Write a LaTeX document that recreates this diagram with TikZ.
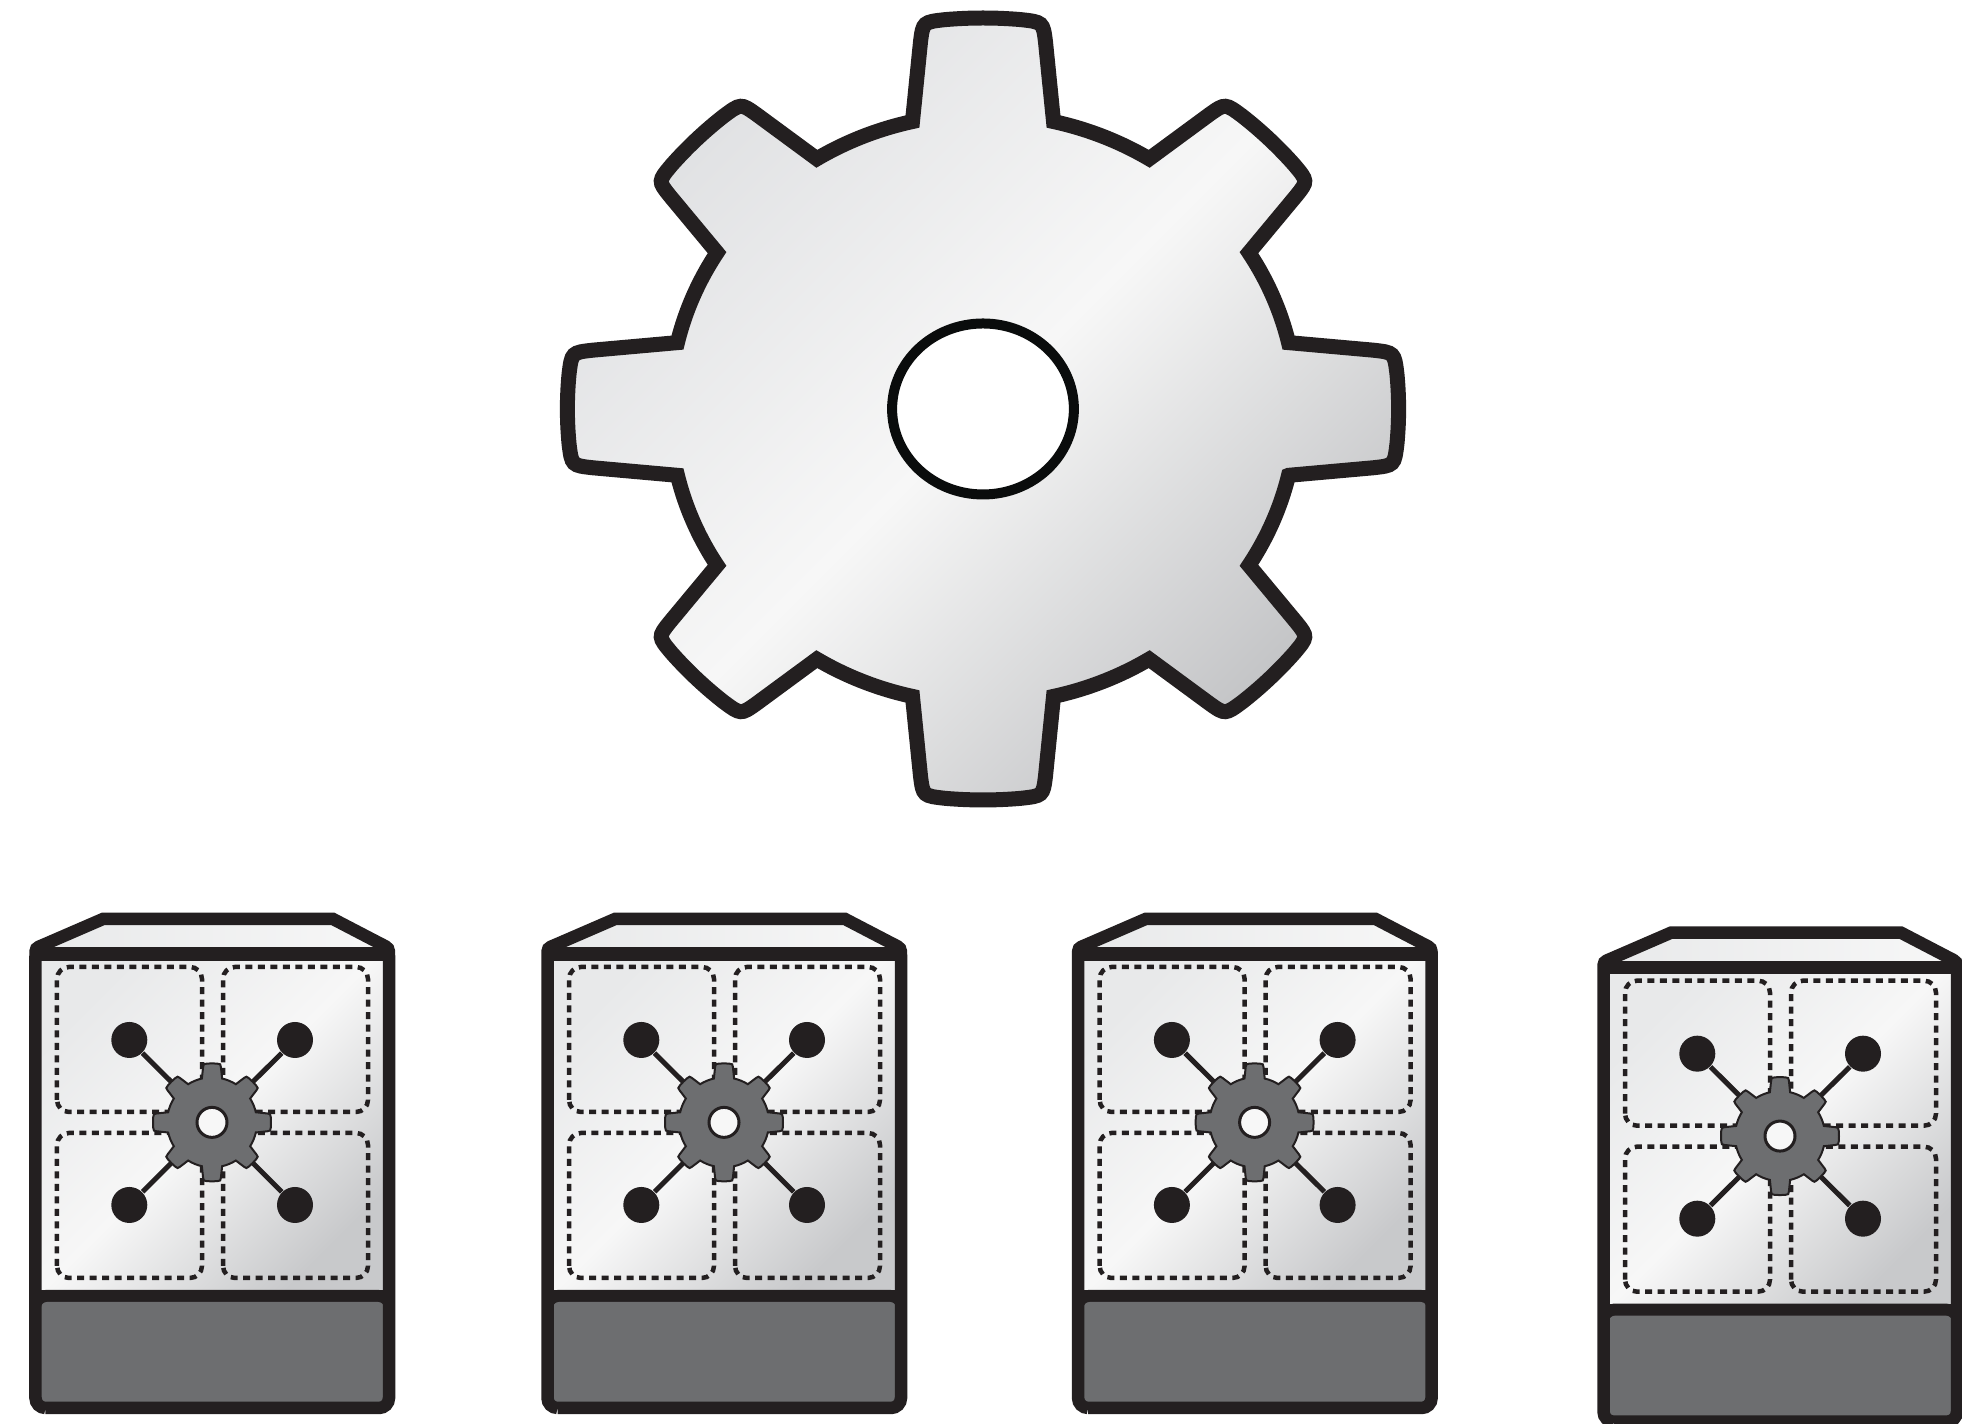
\documentclass[tikz,border=0pt]{standalone}
\usepackage{xcolor}
\usetikzlibrary{calc,positioning}
\definecolor{ink}{HTML}{231F20}
\definecolor{holeink}{HTML}{0A0C0C}
\definecolor{steel}{HTML}{6D6E70}
\definecolor{sheenlow}{HTML}{E0E1E3}
\definecolor{sheenmid}{HTML}{F7F7F7}
\definecolor{sheenhigh}{HTML}{C2C3C5}
\definecolor{panellow}{HTML}{E8E9EA}
\definecolor{panelhigh}{HTML}{C8C9CB}
\tikzset{
    sheen/.style={top color=sheenlow, bottom color=sheenhigh, middle color=sheenmid, shading angle=45},
    panelsheen/.style={top color=panellow, bottom color=panelhigh, middle color=sheenmid, shading angle=45},
    dashbox/.style={draw=ink, line width=0.045cm, rounded corners=0.12cm, dash pattern=on 0.07cm off 0.055cm},
    hubdot/.style={circle, fill=ink, inner sep=0pt, minimum size=0.36cm},
    spoke/.style={ink, line width=0.05cm},
}
% tip radius, root radius
\newcommand{\cogpath}[2]{(-13:#2) \foreach \a/\t in {0/1,45/0.975,90/1,135/0.975,180/1,225/0.975,270/1,315/0.975} {
    -- (\a-9.1:#2+0.8*\t*#1-0.8*#2) .. controls (\a-8.3:\t*#1) .. (\a-5.2:\t*#1)
    arc[start angle=\a-5.2, end angle=\a+5.2, radius=\t*#1]
    .. controls (\a+8.3:\t*#1) .. (\a+9.1:#2+0.8*\t*#1-0.8*#2) -- (\a+13:#2)
    arc[start angle=\a+13, end angle=\a+32, radius=#2]
} -- cycle}

\begin{document}
\begin{tikzpicture}
    \useasboundingbox (0,0) rectangle (19.62,14.24);

    % Large cog
    \begin{scope}[shift={(9.83,10.15)}, xscale=1.063]
        \draw[ink, line width=0.15cm, sheen] \cogpath{3.91}{2.95};
        \draw[holeink, line width=0.1cm, fill=white] (0,0) circle (0.855);
    \end{scope}

    % Cabinets
    \foreach \cabx/\caby/\n in {0.29/0.10/a, 5.41/0.10/b, 10.716/0.10/c, 15.97/-0.037/d} {
        \begin{scope}[shift={(\cabx,\caby)}]
            % Top face and front panel
            \shade[left color=panellow, right color=sheenmid] (0.065,4.62) -- (0.74,4.95) -- (3.04,4.95) -- (3.60,4.62) -- cycle;
            \shade[panelsheen] (0.065,1.24) rectangle (3.60,4.62);
            \fill[ink, rounded corners=0.1cm] (0.065,0.06) rectangle (3.60,1.24);
            \fill[ink] (0.065,1.0) rectangle (3.60,1.24);
            \fill[steel, rounded corners=0.06cm] (0.12,0.11) rectangle (3.55,1.12);

            % Four dashed slots
            \draw[dashbox] (0.28,3.02) rectangle (1.73,4.47);
            \draw[dashbox] (1.94,3.02) rectangle (3.39,4.47);
            \draw[dashbox] (0.28,1.36) rectangle (1.73,2.81);
            \draw[dashbox] (1.94,1.36) rectangle (3.39,2.81);

            % Cabinet outline
            \draw[ink, line width=0.125cm]
                (0.165,0.06) -- (3.50,0.06) arc[start angle=-90, end angle=0, radius=0.1]
                -- (3.60,4.58) .. controls (3.60,4.66) .. (3.52,4.70) -- (3.04,4.95) -- (0.74,4.95)
                -- (0.14,4.69) .. controls (0.065,4.66) .. (0.065,4.58)
                -- (0.065,0.16) arc[start angle=180, end angle=270, radius=0.1] -- cycle;
            \draw[ink, line width=0.135cm] (0.065,4.60) -- (3.60,4.60);

            % Dots joined to the small cog
            \coordinate (hub\n) at (1.83,2.916);
            \node[hubdot] (tl\n) at (1.003,3.74) {};
            \node[hubdot] (tr\n) at (2.66,3.74) {};
            \node[hubdot] (bl\n) at (1.003,2.09) {};
            \node[hubdot] (br\n) at (2.66,2.09) {};
            \draw[spoke] (tl\n) -- (hub\n);
            \draw[spoke] (tr\n) -- (hub\n);
            \draw[spoke] (bl\n) -- (hub\n);
            \draw[spoke] (br\n) -- (hub\n);

            % Small cog
            \begin{scope}[shift={(1.83,2.916)}]
                \draw[ink, line width=0.02cm, fill=steel] \cogpath{0.59}{0.45};
                \draw[ink, line width=0.03cm, fill=sheenmid] (0,0) circle (0.15);
            \end{scope}
        \end{scope}
    }
\end{tikzpicture}
\end{document}
